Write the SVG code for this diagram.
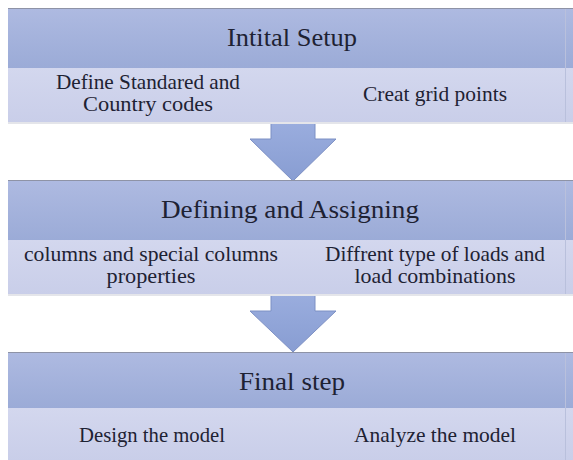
<svg xmlns="http://www.w3.org/2000/svg" width="573" height="460" viewBox="0 0 573 460">
<defs>
<linearGradient id="hdr" x1="0" y1="0" x2="0" y2="1">
<stop offset="0" stop-color="#aebae1"/>
<stop offset="1" stop-color="#9babd7"/>
</linearGradient>
<linearGradient id="sub" x1="0" y1="0" x2="0" y2="1">
<stop offset="0" stop-color="#d3d7ee"/>
<stop offset="1" stop-color="#c9cee9"/>
</linearGradient>
<linearGradient id="arr" x1="0" y1="0" x2="0" y2="1">
<stop offset="0" stop-color="#9aadde"/>
<stop offset="1" stop-color="#889dd2"/>
</linearGradient>
</defs>
<style>
.hdr{fill:url(#hdr);}
.hline{stroke:#8e93a6;stroke-width:1.2;fill:none;}
.sub{fill:url(#sub);}
.shadow{fill:#e4e5ea;}
.edge{stroke:#b9c0dc;stroke-width:1;}
.arrow{fill:url(#arr);stroke:#7d90c4;stroke-width:1;}
.h,.s{fill:#1e2233;font-family:Liberation Serif, Times New Roman, Times, DejaVu Serif, serif;}
.h{font-size:26px;text-anchor:middle;}
.s{font-size:21px;text-anchor:middle;}
</style>
<rect width="573" height="460" fill="#ffffff"/>
<g id="connectors">
<path class="arrow" d="M271,122 H315 V139 H336 L293,181 L250,139 H271 Z"/>
<path class="arrow" d="M271,294 H315 V311 H336 L293,352 L250,311 H271 Z"/>
</g>
<g id="initial-setup">
<rect class="shadow" x="8" y="122" width="565" height="2"/>
<rect class="hdr" x="8" y="8" width="565" height="60"/>
<line class="hline" x1="8" y1="8.5" x2="573" y2="8.5"/>
<rect class="sub" x="8" y="68" width="565" height="54"/>
<line class="edge" x1="565.5" y1="9" x2="565.5" y2="122"/>
<text class="h" x="292" y="46" textLength="130" lengthAdjust="spacingAndGlyphs">Intital Setup</text>
<text class="s" x="148" y="88.5" textLength="184" lengthAdjust="spacingAndGlyphs">Define Standared and</text>
<text class="s" x="148" y="111" textLength="130" lengthAdjust="spacingAndGlyphs">Country codes</text>
<text class="s" x="435" y="101" textLength="144" lengthAdjust="spacingAndGlyphs">Creat grid points</text>
</g>
<g id="defining-assigning">
<rect class="shadow" x="8" y="294" width="565" height="2"/>
<rect class="hdr" x="8" y="180" width="565" height="60"/>
<line class="hline" x1="8" y1="180.5" x2="573" y2="180.5"/>
<rect class="sub" x="8" y="240" width="565" height="54"/>
<line class="edge" x1="565.5" y1="181" x2="565.5" y2="294"/>
<text class="h" x="290" y="218" textLength="258" lengthAdjust="spacingAndGlyphs">Defining and Assigning</text>
<text class="s" x="151" y="261" textLength="254" lengthAdjust="spacingAndGlyphs">columns and special columns</text>
<text class="s" x="151" y="283" textLength="89" lengthAdjust="spacingAndGlyphs">properties</text>
<text class="s" x="435" y="261" textLength="220" lengthAdjust="spacingAndGlyphs">Diffrent type of loads and</text>
<text class="s" x="435" y="283" textLength="161" lengthAdjust="spacingAndGlyphs">load combinations</text>
</g>
<g id="final-step">
<rect class="hdr" x="8" y="352" width="565" height="56"/>
<line class="hline" x1="8" y1="352.5" x2="573" y2="352.5"/>
<rect class="sub" x="8" y="408" width="565" height="52"/>
<line class="edge" x1="565.5" y1="353" x2="565.5" y2="460"/>
<text class="h" x="292" y="390" textLength="106" lengthAdjust="spacingAndGlyphs">Final step</text>
<text class="s" x="152" y="442" textLength="146" lengthAdjust="spacingAndGlyphs">Design the model</text>
<text class="s" x="435" y="442" textLength="162" lengthAdjust="spacingAndGlyphs">Analyze the model</text>
</g>
</svg>
